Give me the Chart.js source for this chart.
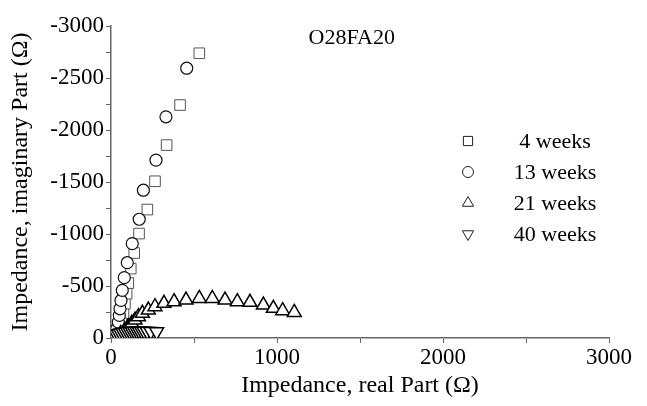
<!DOCTYPE html>
<html>
<head>
<meta charset="utf-8">
<script src="https://cdn.jsdelivr.net/npm/chart.js@4.4.1/dist/chart.umd.min.js"></script>
<style>
  html, body { margin: 0; padding: 0; background: #fff; }
  #wrap { width: 647px; height: 406px; }
</style>
</head>
<body>
<div id="wrap"><canvas id="nyquist"></canvas></div>
<script>
// Trục thực (Ω) và trục ảo (Ω)
const legendLabels = ['4 weeks', '13 weeks', '21 weeks', '40 weeks'];
const chartTitle = 'O28FA20';

const w4X = [30, 48, 62, 75, 84, 94, 104, 119, 140, 169, 219, 265, 335, 416, 532];
const w4Y = [-30, -90, -160, -240, -330, -426, -528, -667, -817, -1004, -1235, -1507, -1855, -2240, -2738];

const w13X = [24, 34, 44, 50, 54, 60, 68, 80, 98, 128, 170, 195, 271, 331, 456];
const w13Y = [-39, -87, -153, -217, -281, -361, -458, -580, -724, -907, -1142, -1421, -1710, -2127, -2594];

const w21X = [34, 58, 84, 104, 125, 145, 165, 189, 225, 265, 319, 380, 452, 532, 610, 687, 761, 837, 918, 978, 1034, 1104];
const w21Y = [-14, -44, -76, -108, -141, -173, -205, -237, -269, -301, -333, -349, -365, -381, -381, -365, -349, -343, -317, -285, -263, -246];

const w40X = [10, 20, 32, 45, 58, 72, 86, 100, 114, 128, 142, 156, 170, 185, 200, 218, 240, 275];
const w40Y = [-10, -22, -32, -40, -47, -52, -56, -59, -61, -63, -64, -65, -65, -65, -64, -63, -62, -60];

const xTicks = [0, 500, 1000, 1500, 2000, 2500, 3000];
const yTicks = [0, -250, -500, -750, -1000, -1250, -1500, -1750, -2000, -2250, -2500, -2750, -3000];

const toPoints = (xs, ys) => xs.map((x, i) => ({ x, y: ys[i] }));
const serif = 'Liberation Serif, Times New Roman, serif';
const axisColor = '#666';

// legend vẽ tay bên trong vùng biểu đồ
const innerLegend = {
    id: 'innerLegend',
    afterDraw(chart, args, opts) {
        const ctx = chart.ctx;
        ctx.save();
        chart.data.datasets.forEach((ds, i) => {
            const y = opts.top + i * opts.rowGap;
            ctx.fillStyle = '#fff';
            ctx.strokeStyle = '#222';
            ctx.lineWidth = 1;
            Chart.helpers.drawPoint(ctx, {
                pointStyle: ds.pointStyle,
                radius: opts.radius[i],
                rotation: ds.rotation || 0,
                borderWidth: 1
            }, opts.symbolX, y);
            ctx.fillStyle = '#000';
            ctx.font = opts.fontSize + 'px ' + serif;
            ctx.textAlign = 'center';
            ctx.textBaseline = 'middle';
            ctx.fillText(ds.label, opts.textX, y + 1);
        });
        // tiêu đề mẫu
        const xs = chart.scales.x, ys = chart.scales.y;
        ctx.fillStyle = '#000';
        ctx.font = opts.fontSize + 'px ' + serif;
        ctx.textAlign = 'center';
        ctx.fillText(chartTitle, xs.getPixelForValue(opts.titleAt[0]), ys.getPixelForValue(opts.titleAt[1]));
        ctx.restore();
    }
};

function makeSet(label, xs, ys, style, radius, color, width, order, rotation) {
    return {
        label,
        data: toPoints(xs, ys),
        pointStyle: style,
        pointRadius: radius,
        pointHoverRadius: radius,
        rotation: rotation || 0,
        pointRotation: rotation || 0,
        pointBackgroundColor: '#fff',
        pointBorderColor: color,
        pointBorderWidth: width,
        showLine: false,
        order
    };
}

const ctx = document.getElementById('nyquist').getContext('2d');
new Chart(ctx, {
    type: 'scatter',
    data: {
        datasets: [
            makeSet(legendLabels[0], w4X, w4Y, 'rect', 7.5, '#555', 1, 4),
            makeSet(legendLabels[1], w13X, w13Y, 'circle', 6, '#111', 1.2, 3),
            makeSet(legendLabels[2], w21X, w21Y, 'triangle', 8, '#000', 1.5, 2),
            makeSet(legendLabels[3], w40X, w40Y, 'triangle', 8, '#000', 1.5, 1, 180)
        ]
    },
    options: {
        responsive: true,
        maintainAspectRatio: false,
        animation: false,
        layout: { padding: { left: 0, right: 38, top: 26, bottom: 0 } },
        plugins: {
            legend: { display: false },
            tooltip: { enabled: false },
            innerLegend: {
                symbolX: 468, textX: 555, top: 141, rowGap: 31, fontSize: 22,
                radius: [6.5, 5.5, 6.5, 6.5],
                titleAt: [1450, -2880]
            }
        },
        scales: {
            x: {
                type: 'linear',
                min: 0, max: 3000,
                afterBuildTicks: s => { s.ticks = xTicks.map(v => ({ value: v })); },
                afterFit: s => { s.height = 68; },
                border: { display: true, color: axisColor, width: 1.5 },
                grid: { drawOnChartArea: false, drawTicks: true, tickLength: 5, color: axisColor },
                ticks: {
                    autoSkip: false, maxRotation: 0, padding: 1, color: '#000',
                    font: { family: serif, size: 23 },
                    callback: v => (v % 1000 === 0 ? String(v) : '')
                },
                title: {
                    display: true, text: 'Impedance, real Part (Ω)', color: '#000',
                    font: { family: serif, size: 24 }, padding: { top: 0, bottom: 6 }
                }
            },
            y: {
                type: 'linear',
                min: -3000, max: 0,
                reverse: true,
                afterBuildTicks: s => { s.ticks = yTicks.map(v => ({ value: v })); },
                afterFit: s => { s.width = 111; },
                border: { display: true, color: axisColor, width: 1.5 },
                grid: { drawOnChartArea: false, drawTicks: true, tickLength: 5, color: axisColor },
                ticks: {
                    autoSkip: false, padding: 2, color: '#000',
                    font: { family: serif, size: 23 },
                    callback: v => (v % 500 === 0 ? String(v) : '')
                },
                title: {
                    display: true, text: 'Impedance, imaginary Part (Ω)', color: '#000',
                    font: { family: serif, size: 24 }, padding: { top: 6, bottom: 0 }
                }
            }
        }
    },
    plugins: [innerLegend]
});
</script>
</body>
</html>
